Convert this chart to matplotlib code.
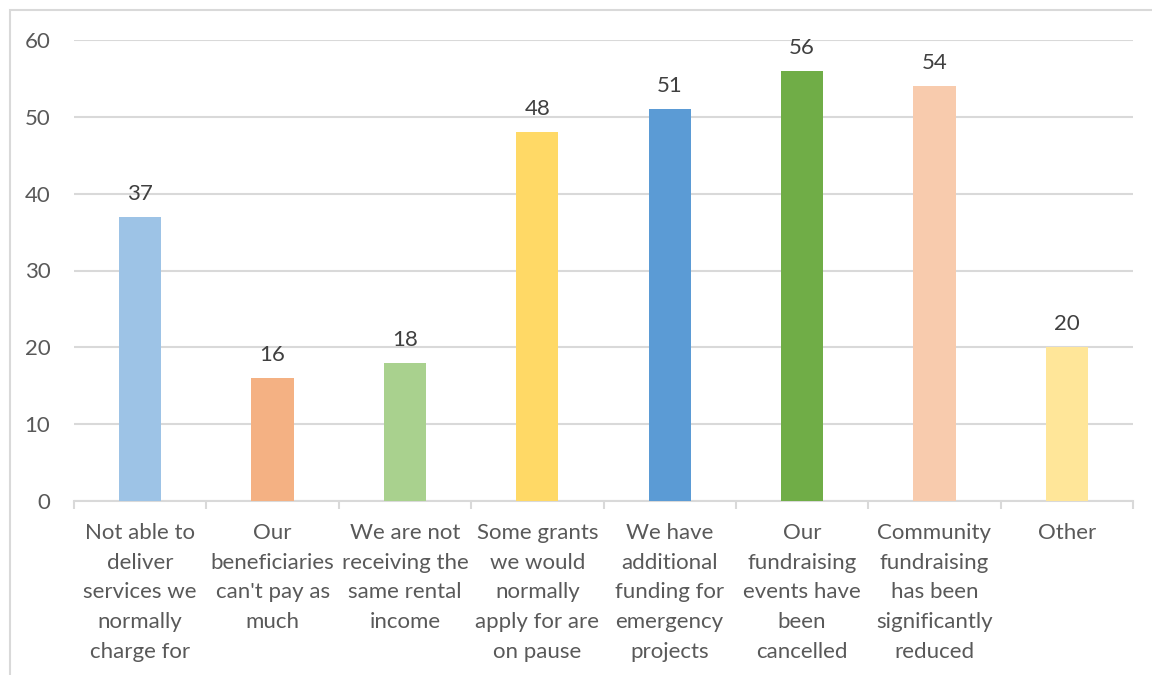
import matplotlib
matplotlib.use("Agg")
import matplotlib.pyplot as plt
import numpy as np

categories = [
    "Not able to\ndeliver\nservices we\nnormally\ncharge for",
    "Our\nbeneficiaries\ncan't pay as\nmuch",
    "We are not\nreceiving the\nsame rental\nincome",
    "Some grants\nwe would\nnormally\napply for are\non pause",
    "We have\nadditional\nfunding for\nemergency\nprojects",
    "Our\nfundraising\nevents have\nbeen\ncancelled",
    "Community\nfundraising\nhas been\nsignificantly\nreduced",
    "Other",
]
values = [37, 16, 18, 48, 51, 56, 54, 20]
bar_colors = ["#9DC3E6", "#F4B183", "#A9D18E", "#FFD966",
              "#5B9BD5", "#70AD47", "#F8CBAD", "#FFE699"]

plt.rcParams['font.family'] = ['Lato', 'DejaVu Sans']

fig = plt.figure(figsize=(11.52, 6.75), dpi=100)
# outer chart border
fig.patches.append(plt.Rectangle((10 / 1152, -0.1), 1.2, 1 - 10 / 675 + 0.1,
                                 transform=fig.transFigure, fill=False,
                                 edgecolor="#D9D9D9", linewidth=1.5))

ax = fig.add_axes([74 / 1152, 1 - 501 / 675, (1133 - 74) / 1152, (501 - 40) / 675])
x = np.arange(len(values))
bars = ax.bar(x, values, width=0.32, color=bar_colors, zorder=3)

for xi, v in zip(x, values):
    ax.text(xi, v + 1.7, str(v), ha="center", va="bottom",
            fontsize=16, color="#404040")

ax.set_xlim(-0.5, len(values) - 0.5)
ax.set_ylim(0, 60)
ax.set_yticks(range(0, 61, 10))
ax.yaxis.grid(True, color="#D9D9D9", linewidth=1.5, zorder=0)
ax.set_axisbelow(True)

for s in ["top", "right", "left"]:
    ax.spines[s].set_visible(False)
ax.spines["bottom"].set_color("#D9D9D9")
ax.spines["bottom"].set_linewidth(1.5)

ax.set_xticks(x)
ax.set_xticklabels(categories, fontsize=16, color="#595959", linespacing=1.6)
ax.set_xticks(np.arange(-0.5, len(values), 1), minor=True)
ax.tick_params(axis="x", which="major", length=0, pad=16)
ax.tick_params(axis="x", which="minor", length=6, width=1.5, color="#D9D9D9")
ax.tick_params(axis="y", length=0, pad=17, labelsize=16, labelcolor="#595959")
for lbl in ax.get_xticklabels():
    lbl.set_verticalalignment("top")

fig.savefig("out.png", dpi=100)
